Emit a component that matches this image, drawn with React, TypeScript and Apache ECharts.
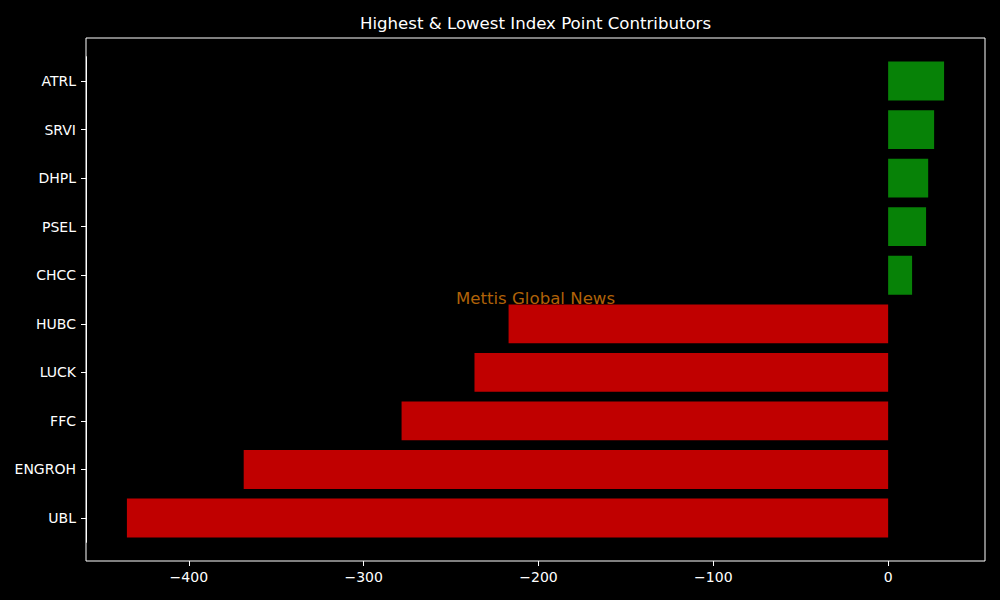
import React, { useEffect, useRef } from "react";
import * as echarts from "echarts";

// Index point contribution per stock (bottom to top on the axis)
const tickers = ["UBL", "ENGROH", "FFC", "LUCK", "HUBC", "CHCC", "PSEL", "DHPL", "SRVI", "ATRL"];
const points = [-435.4, -368.6, -278.3, -236.6, -217.1, 13.7, 21.7, 22.9, 26.3, 32.0];

const X_MIN = -458.8;
const X_MAX = 55.4;
const xTicks = [-400, -300, -200, -100, 0];

const GAIN_COLOR = "#078207";
const LOSS_COLOR = "#c00000";
const FONT = "DejaVu Sans";

export default function App() {
  const ref = useRef<HTMLDivElement>(null);

  useEffect(() => {
    if (!ref.current) return;
    const chart = echarts.init(ref.current, null, { renderer: "svg" });

    // frame box 86..985 x 38..561; category bands inset like matplotlib margins
    const frameTop = 38;
    const frameBottom = 561;
    const band = 48.56;
    const innerTop = 81 - band / 2;
    const innerHeight = band * tickers.length;
    const centerX = 535.5;

    chart.setOption({
      animation: false,
      backgroundColor: "#000000",
      grid: [
        {
          left: 86,
          right: 15,
          top: frameTop,
          height: frameBottom - frameTop,
          show: true,
          borderColor: "#ffffff",
          borderWidth: 1,
          backgroundColor: "transparent",
        },
        {
          left: 86,
          right: 15,
          top: innerTop,
          height: innerHeight,
        },
      ],
      xAxis: [
        {
          gridIndex: 0,
          type: "value",
          min: X_MIN,
          max: X_MAX,
          interval: 100,
          splitLine: { show: false },
          axisLine: { show: false },
          axisTick: {
            show: true,
            length: 5,
            lineStyle: { color: "#ffffff" },
            customValues: xTicks,
          },
          axisLabel: {
            color: "#ffffff",
            fontFamily: FONT,
            fontSize: 14,
            margin: 9,
            customValues: xTicks,
            formatter: (v: number) => String(v).replace("-", "\u2212"),
          },
        },
        {
          gridIndex: 1,
          type: "value",
          min: X_MIN,
          max: X_MAX,
          show: false,
        },
      ],
      yAxis: [
        { gridIndex: 0, type: "value", show: false, min: 0, max: 1 },
        {
          gridIndex: 1,
          type: "category",
          position: "left",
          data: tickers,
          axisLine: { show: true, onZero: false, lineStyle: { color: "#ffffff", width: 1 } },
          axisTick: {
            show: true,
            interval: 0,
            inside: false,
            length: 5,
            alignWithLabel: true,
            lineStyle: { color: "#ffffff", width: 1 },
          },
          axisLabel: { color: "#ffffff", fontFamily: FONT, fontSize: 14, margin: 10 },
          splitLine: { show: false },
        },
      ],
      graphic: [
        {
          type: "text",
          x: centerX,
          y: 23,
          style: {
            text: "Highest & Lowest Index Point Contributors",
            fill: "#ffffff",
            font: `16.6px "${FONT}"`,
            textAlign: "center",
            textVerticalAlign: "middle",
          },
        },
        {
          type: "text",
          x: centerX,
          y: 298.5,
          style: {
            text: "Mettis Global News",
            fill: "#b06208",
            font: `16.6px "${FONT}"`,
            textAlign: "center",
            textVerticalAlign: "middle",
          },
          z: 0,
        },
      ],
      series: [
        {
          type: "bar",
          xAxisIndex: 1,
          yAxisIndex: 1,
          barWidth: "80%",
          z: 5,
          data: points.map((v) => ({
            value: v,
            itemStyle: { color: v >= 0 ? GAIN_COLOR : LOSS_COLOR },
          })),
        },
      ],
    });

    return () => chart.dispose();
  }, []);

  return <div ref={ref} style={{ width: 1000, height: 600, position: "absolute", left: 0, top: 0 }} />;
}
